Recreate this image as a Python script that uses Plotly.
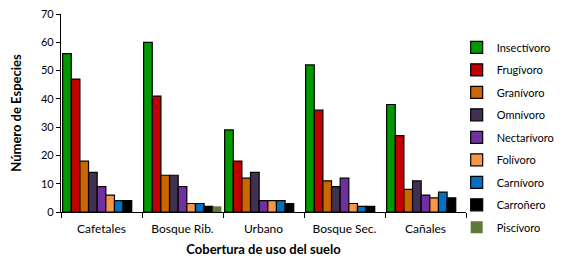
import plotly.graph_objects as go

categories = ["Cafetales", "Bosque Rib.", "Urbano", "Bosque Sec.", "Cañales"]
series_names = ["Insectívoro", "Frugívoro", "Granívoro", "Omnívoro", "Nectarívoro",
                "Folívoro", "Carnívoro", "Carroñero", "Piscívoro"]
insectivoro = [56, 60, 29, 52, 38]
frugivoro = [47, 41, 18, 36, 27]
granivoro = [18, 13, 12, 11, 8]
omnivoro = [14, 13, 14, 9, 11]
nectarivoro = [9, 9, 4, 12, 6]
folivoro = [6, 3, 4, 3, 5]
carnivoro = [4, 3, 4, 2, 7]
carronero = [4, 2, 3, 2, 5]
piscivoro = [0, 2, 0, 0, 0]
series_values = [insectivoro, frugivoro, granivoro, omnivoro, nectarivoro,
                 folivoro, carnivoro, carronero, piscivoro]
colors = ["#009900", "#C00000", "#CC6600", "#403151", "#7030A0",
          "#F79646", "#0070C0", "#000000", "#5F7A36"]
y_ticks = [0, 10, 20, 30, 40, 50, 60, 70]

FONT = "Lato, Calibri, Arial, sans-serif"

fig = go.Figure()
for i, (name, vals, col) in enumerate(zip(series_names, series_values, colors)):
    fig.add_trace(go.Bar(
        name=name, x=categories, y=vals,
        marker=dict(color=col,
                    line=dict(color="#000000", width=0 if name == "Piscívoro" else 1.2)),
        legendgroup=f"g{i}",
    ))

fig.update_layout(
    width=560, height=269,
    margin=dict(l=53, r=102, t=6, b=65, autoexpand=False),
    paper_bgcolor="white", plot_bgcolor="white",
    barmode="group", bargap=0.04, bargroupgap=0,
    font=dict(family=FONT, size=12, color="#000000"),
    showlegend=True,
    legend=dict(x=0.977, y=0.905, xanchor="left", yanchor="top",
                font=dict(family=FONT, size=11),
                tracegroupgap=3.5, itemwidth=30, maxheight=260,
                bgcolor="rgba(0,0,0,0)"),
    xaxis=dict(
        showline=True, linecolor="#000000", linewidth=1.3,
        ticks="outside", tickson="boundaries", ticklen=5, tickcolor="#000000",
        tickfont=dict(family=FONT, size=12), ticklabelstandoff=5,
        title=dict(text="<b>Cobertura de uso del suelo</b>", font=dict(family=FONT, size=13),
                   standoff=10),
    ),
    yaxis=dict(
        range=[0, 70], tickvals=y_ticks, showgrid=False, zeroline=False,
        showline=True, linecolor="#000000", linewidth=1.3,
        ticks="outside", ticklen=4, tickcolor="#000000",
        tickfont=dict(family=FONT, size=11), ticklabeloverflow="allow",
        title=dict(text="<b>Número de Especies</b>", font=dict(family=FONT, size=13),
                   standoff=16),
    ),
)

fig.write_html("out.html")
